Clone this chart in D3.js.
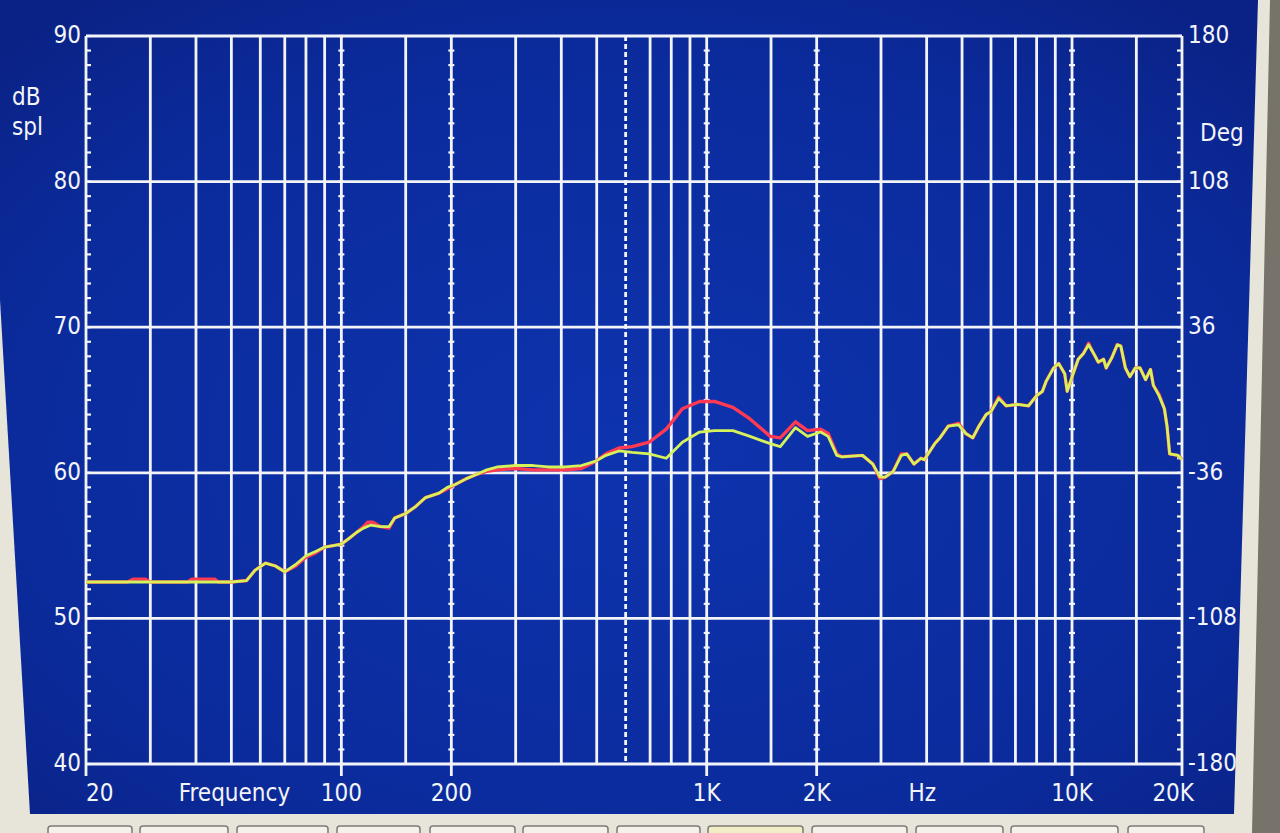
<!DOCTYPE html>
<html><head><meta charset="utf-8">
<script src="https://cdn.jsdelivr.net/npm/d3@7"></script>
<style>html,body{margin:0;padding:0;background:#e6e3d8;overflow:hidden}</style>
</head><body>
<svg id="c" width="1280" height="833"></svg>
<script>
// ---------- data ----------
const dbTicks = [40, 50, 60, 70, 80, 90];
const degTicks = [-180, -108, -36, 36, 108, 180];
const degLabels = ["-180", "-108", "-36", "36", "108", "180"];
const majorFreqs = [100, 200, 1000, 2000, 10000];          // beaded grid lines
const minorFreqs = [30, 40, 50, 60, 70, 80, 90, 150, 300, 400, 500, 700, 800, 900,
                    1500, 3000, 4000, 5000, 6000, 7000, 8000, 9000, 15000];
const markerFreqs = [600];                                // dotted cursor line
const labelFreqs = [20, 100, 200, 1000, 2000, 10000, 20000];
const labelTexts = ["20", "100", "200", "1K", "2K", "10K", "20K"];

// yellow-green trace
const freqY = [20,25,30,35,40,45,50,55,58,62,66,70,75,80,85,90,95,100,105,110,115,120,128,135,140,150,160,170,185,195,205,220,235,250,268,300,335,368,410,454,497,530,575,625,696,775,858,956,1050,1180,1314,1493,1590,1750,1888,2050,2150,2270,2340,2670,2850,2980,3080,3240,3410,3530,3690,3860,3940,4210,4350,4580,4890,5120,5350,5560,5820,6000,6300,6600,7100,7600,8000,8300,8500,8900,9200,9550,9700,10100,10400,10750,11100,11400,11800,12200,12400,12850,13300,13600,14000,14400,14900,15350,15900,16400,16700,17300,17900,18200,18500,19500,20000];
const dbY = [52.5,52.5,52.5,52.5,52.5,52.5,52.5,52.6,53.3,53.8,53.6,53.2,53.7,54.3,54.6,54.9,55.0,55.1,55.5,55.9,56.2,56.4,56.3,56.3,56.9,57.2,57.7,58.3,58.6,59.0,59.2,59.6,59.9,60.2,60.4,60.5,60.5,60.4,60.4,60.5,60.8,61.2,61.5,61.4,61.3,61.0,62.1,62.8,62.9,62.9,62.5,62.0,61.8,63.1,62.5,62.8,62.5,61.2,61.1,61.2,60.6,59.7,59.7,60.1,61.2,61.3,60.6,61.0,60.9,62.0,62.4,63.2,63.3,62.7,62.4,63.2,64.0,64.2,65.1,64.6,64.7,64.6,65.3,65.6,66.3,67.2,67.5,66.8,65.6,66.9,67.8,68.2,68.8,68.3,67.6,67.8,67.2,67.9,68.8,68.7,67.2,66.6,67.2,67.2,66.4,67.1,66.0,65.3,64.4,63.2,61.3,61.2,60.9];

// red trace
const freqR = [20,26,27,29,30,38,39,45,46,50,55,58,62,66,70,75,80,85,90,95,100,105,110,115,118,122,128,135,140,150,160,170,185,195,205,220,235,250,268,300,335,368,410,454,497,530,575,625,696,775,858,956,1050,1180,1314,1493,1590,1750,1888,2050,2150,2270,2340,2670,2850,2980,3080,3240,3410,3530,3690,3860,3940,4210,4350,4580,4890,5120,5350,5560,5820,6000,6300,6600,7100,7600,8000,8300,8500,8900,9200,9550,9700,10100,10400,10750,11100,11400,11800,12200,12400,12850,13300,13600,14000,14400,14900,15350,15900,16400,16700,17300,17900,18200,18500,19500,20000];
const dbR = [52.5,52.5,52.7,52.7,52.5,52.5,52.7,52.7,52.5,52.5,52.6,53.3,53.8,53.6,53.2,53.6,54.2,54.5,54.9,55.0,55.1,55.5,55.9,56.3,56.6,56.6,56.3,56.2,56.9,57.2,57.7,58.3,58.6,58.9,59.2,59.6,59.9,60.1,60.2,60.3,60.2,60.2,60.2,60.3,60.8,61.3,61.7,61.8,62.1,63.0,64.4,64.9,64.9,64.5,63.7,62.5,62.4,63.5,62.9,63.0,62.7,61.3,61.1,61.2,60.6,59.6,59.7,60.1,61.3,61.3,60.6,61.0,60.9,62.0,62.4,63.2,63.4,62.7,62.4,63.2,64.0,64.2,65.2,64.6,64.7,64.6,65.3,65.6,66.3,67.2,67.5,66.8,65.6,66.9,67.8,68.2,68.9,68.3,67.6,67.8,67.2,67.9,68.8,68.7,67.2,66.6,67.2,67.2,66.4,67.1,66.0,65.4,64.4,63.2,61.3,61.2,60.9];

// ---------- layout ----------
const svg = d3.select("#c");
const L = 86, R = 1182, T = 36, B = 764;
const x = d3.scaleLog().domain([20, 20000]).range([L, R]);
const y = d3.scaleLinear().domain([40, 90]).range([B, T]);
const yDeg = d3.scaleLinear().domain([-180, 180]).range([B, T]);
const WHITE = "#f3f4f8";
const FONT = "'DejaVu Sans Condensed','DejaVu Sans',sans-serif";

// bezel & screen
const defs = svg.append("defs");
const rg = defs.append("radialGradient").attr("id", "scr").attr("cx", "50%").attr("cy", "55%").attr("r", "70%");
rg.append("stop").attr("offset", "0%").attr("stop-color", "#0d33ae");
rg.append("stop").attr("offset", "70%").attr("stop-color", "#0b2b9c");
rg.append("stop").attr("offset", "100%").attr("stop-color", "#0a2286");
svg.append("rect").attr("width", 1280).attr("height", 833).attr("fill", "#e7e4da");
svg.append("polygon").attr("points", "1270,0 1280,0 1280,833 1252,833").attr("fill", "#77736a");
svg.append("polygon").attr("points", "0,0 1258,0 1234,814 30,814 0,300").attr("fill", "url(#scr)");

// buttons
const btnX = [48, 140, 237, 337, 430, 523, 617, 708, 812, 916, 1011, 1128];
const btnW = [84, 88, 91, 83, 85, 85, 83, 95, 95, 87, 107, 76];
svg.append("g").selectAll("rect").data(btnX).join("rect")
  .attr("x", d => d).attr("y", 826).attr("width", (d, i) => btnW[i]).attr("height", 20)
  .attr("rx", 3).attr("fill", (d, i) => i === 7 ? "#f1edc6" : "#f3f1ea")
  .attr("stroke", "#7d7b75").attr("stroke-width", 1.5);

// grid
const g = svg.append("g").attr("stroke", WHITE).attr("stroke-width", 2.8);
g.selectAll(".h").data(dbTicks).join("line")
  .attr("x1", L).attr("x2", R).attr("y1", d => y(d)).attr("y2", d => y(d));
g.selectAll(".v").data(minorFreqs).join("line")
  .attr("x1", d => x(d)).attr("x2", d => x(d)).attr("y1", T).attr("y2", B);
g.selectAll(".m").data(majorFreqs.concat([20, 20000])).join("line")
  .attr("x1", d => x(d)).attr("x2", d => x(d)).attr("y1", T).attr("y2", B + 12);
g.selectAll(".k").data(markerFreqs).join("line")
  .attr("x1", d => x(d)).attr("x2", d => x(d)).attr("y1", T).attr("y2", B)
  .attr("stroke-dasharray", "5,3");

// bead ticks (1 dB) on major lines and borders
const beadDb = d3.range(40, 90.01, 1);
const beads = svg.append("g").attr("stroke", WHITE).attr("stroke-width", 2.2);
majorFreqs.forEach(f => {
  beads.selectAll(null).data(beadDb).join("line")
    .attr("x1", x(f) - 3).attr("x2", x(f) + 3).attr("y1", d => y(d)).attr("y2", d => y(d));
});
beads.selectAll(null).data(beadDb).join("line")
  .attr("x1", x(20)).attr("x2", x(20) + 5).attr("y1", d => y(d)).attr("y2", d => y(d));
beads.selectAll(null).data(beadDb).join("line")
  .attr("x1", x(20000) - 5).attr("x2", x(20000)).attr("y1", d => y(d)).attr("y2", d => y(d));

// traces
const line = d3.line().x(d => x(d[0])).y(d => y(d[1])).curve(d3.curveLinear);
svg.append("path").datum(d3.zip(freqR, dbR)).attr("d", line)
  .attr("fill", "none").attr("stroke", "#ff3a52").attr("stroke-width", 3.4).attr("stroke-linejoin", "round");
svg.append("path").datum(d3.zip(freqY, dbY)).attr("d", line)
  .attr("fill", "none").attr("stroke", "#d6f25a").attr("stroke-width", 2.8).attr("stroke-linejoin", "round");

// labels
const txt = svg.append("g").attr("fill", WHITE).attr("font-family", FONT).attr("font-size", 24);
txt.selectAll(".dbl").data(dbTicks).join("text")
  .attr("x", L - 5).attr("y", d => y(d)).attr("text-anchor", "end").attr("dominant-baseline", "middle")
  .text(d => d);
txt.selectAll(".degl").data(degTicks).join("text")
  .attr("x", R + 6).attr("y", d => yDeg(d)).attr("dominant-baseline", "middle")
  .text((d, i) => degLabels[i]);
txt.selectAll(".fl").data(labelFreqs).join("text")
  .attr("x", (d, i) => i === 0 ? x(d) : (i === labelFreqs.length - 1 ? x(d) + 12 : x(d)))
  .attr("y", B + 30)
  .attr("text-anchor", (d, i) => i === 0 ? "start" : (i === labelFreqs.length - 1 ? "end" : "middle"))
  .attr("dominant-baseline", "middle")
  .text((d, i) => labelTexts[i]);
txt.append("text").attr("x", x(51)).attr("y", B + 30).attr("text-anchor", "middle")
  .attr("dominant-baseline", "middle").text("Frequency");
txt.append("text").attr("x", x(3890)).attr("y", B + 30).attr("text-anchor", "middle")
  .attr("dominant-baseline", "middle").text("Hz");
txt.append("text").attr("x", 12).attr("y", 98).attr("dominant-baseline", "middle").text("dB");
txt.append("text").attr("x", 12).attr("y", 128).attr("dominant-baseline", "middle").text("spl");
txt.append("text").attr("x", R + 18).attr("y", 134).attr("dominant-baseline", "middle").text("Deg");
</script>
</body></html>
